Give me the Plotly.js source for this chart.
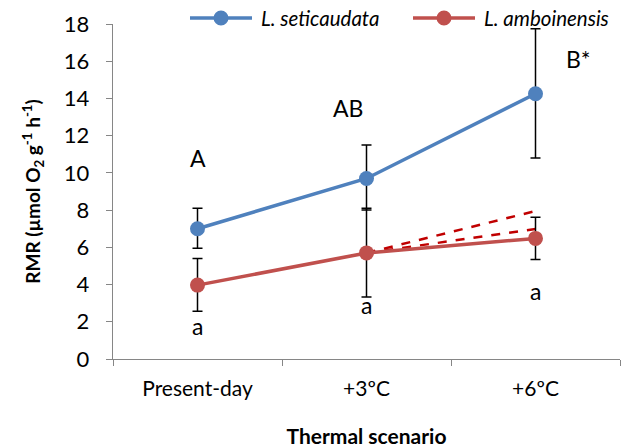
<!DOCTYPE html>
<html><head><meta charset="utf-8">
<script src="https://cdn.plot.ly/plotly-3.0.1.min.js"></script>
<style>html,body{margin:0;padding:0;background:#fff}#c{width:630px;height:448px}</style>
</head><body><div id="c"></div>
<script>
const categories = ["Present-day", "+3ºC", "+6ºC"];
const seriesNames = ["L. seticaudata", "L. amboinensis"];
const seticaudata = [7.0, 9.7, 14.25];
const seticaudataErrUp = [1.1, 1.8, 3.5];
const seticaudataErrDown = [1.05, 1.7, 3.45];
const amboinensis = [3.97, 5.7, 6.48];
const amboinensisErrUp = [1.43, 2.4, 1.13];
const amboinensisErrDown = [1.4, 2.37, 1.14];
const dashX = ["+3ºC", "+6ºC"];
const dashUpper = [5.7, 7.95];
const dashLower = [5.7, 6.98];
const upperLetters = ["A", "AB", "B*"];
const upperLetterY = [10.8, 13.5, 16.1];
const lowerLetters = ["a", "a", "a"];
const lowerLetterY = [1.75, 2.9, 3.65];
const yTicks = [0, 2, 4, 6, 8, 10, 12, 14, 16, 18];

const FONT = "Lato, 'Open Sans', sans-serif";
const blue = "#4F81BD", red = "#C0504D", dred = "#C00000";

const traces = [
  {x: dashX, y: dashUpper, mode: "lines", line: {color: dred, width: 2.5, dash: "dash"}, showlegend: false, hoverinfo: "skip"},
  {x: dashX, y: dashLower, mode: "lines", line: {color: dred, width: 2.5, dash: "dash"}, showlegend: false, hoverinfo: "skip"},
  {x: categories, y: seticaudata, name: seriesNames[0], mode: "lines+markers", showlegend: false,
   line: {color: blue, width: 3.5}, marker: {color: blue, size: 15},
   error_y: {type: "data", symmetric: false, array: seticaudataErrUp, arrayminus: seticaudataErrDown, color: "#000", thickness: 1.5, width: 5}},
  {x: categories, y: amboinensis, name: seriesNames[1], mode: "lines+markers", showlegend: false,
   line: {color: red, width: 3.5}, marker: {color: red, size: 15},
   error_y: {type: "data", symmetric: false, array: amboinensisErrUp, arrayminus: amboinensisErrDown, color: "#000", thickness: 1.5, width: 5}}
];

const W = 630, H = 448, ML = 113, MR = 10, MT = 24, MB = 89;
const PW = W - ML - MR, PH = H - MT - MB;
const px = v => (v - ML) / PW;
const py = v => (H - MB - v) / PH;

const shifts = [0, -19, 43];
const annotations = [];
categories.forEach((c, i) => {
  annotations.push({x: c, y: upperLetterY[i], text: upperLetters[i], showarrow: false, xshift: shifts[i], font: {family: FONT, size: 23, color: "#000"}});
  annotations.push({x: c, y: lowerLetterY[i], text: lowerLetters[i], showarrow: false, font: {family: FONT, size: 23, color: "#000"}});
});

// manual legend
const legendItems = [
  {color: blue, x0: 190, x1: 252, mx: 221, tx: 259, name: seriesNames[0]},
  {color: red, x0: 413, x1: 475, mx: 444, tx: 482, name: seriesNames[1]}
];
const shapes = [];
const legY = 18;
legendItems.forEach(it => {
  shapes.push({type: "line", xref: "paper", yref: "paper", x0: px(it.x0), x1: px(it.x1), y0: py(legY), y1: py(legY), line: {color: it.color, width: 3.5}});
  shapes.push({type: "circle", xref: "paper", yref: "paper", xsizemode: "pixel", ysizemode: "pixel",
    xanchor: px(it.mx), yanchor: py(legY), x0: -7.5, x1: 7.5, y0: -7.5, y1: 7.5, fillcolor: it.color, line: {color: it.color, width: 0}});
  annotations.push({xref: "paper", yref: "paper", x: px(it.tx), y: py(legY), xanchor: "left", yanchor: "middle", showarrow: false,
    text: "<i>" + it.name + "</i>", font: {family: FONT, size: 20.5, color: "#000"}});
});

const layout = {
  width: W, height: H,
  margin: {l: ML, r: MR, t: MT, b: MB},
  paper_bgcolor: "#fff", plot_bgcolor: "#fff",
  font: {family: FONT, size: 20, color: "#000"},
  showlegend: false,
  xaxis: {type: "category", categoryorder: "array", categoryarray: categories, range: [-0.5, 2.5],
    showline: true, linecolor: "#868686", linewidth: 1.3,
    ticks: "outside", tickson: "boundaries", ticklen: 6, tickcolor: "#868686", showgrid: false, zeroline: false,
    tickfont: {family: FONT, size: 21}, automargin: false, ticklabelstandoff: 10,
    title: {text: "<b>Thermal scenario</b>", font: {family: FONT, size: 21}, standoff: 30}},
  yaxis: {range: [0, 18], tickvals: yTicks, showline: true, linecolor: "#868686", linewidth: 1.3,
    ticks: "outside", ticklen: 6, tickcolor: "#868686", showgrid: false, zeroline: false,
    tickfont: {family: FONT, size: 22}, automargin: false, ticklabelstandoff: 12,
    title: {text: "<b>RMR (µmol O<sub>2</sub> g<sup>-1</sup> h<sup>-1</sup>)</b>", font: {family: FONT, size: 19}, standoff: 18}},
  annotations: annotations,
  shapes: shapes
};
Plotly.newPlot("c", traces, layout, {displayModeBar: false, staticPlot: true});
</script></body></html>
